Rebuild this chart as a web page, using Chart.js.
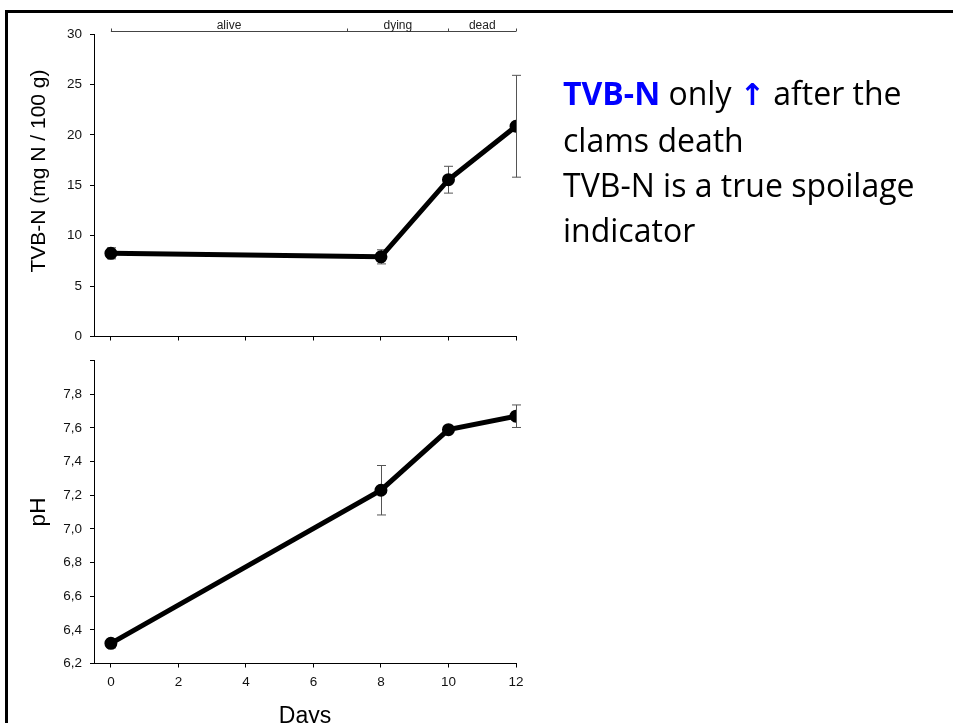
<!DOCTYPE html>
<html>
<head>
<meta charset="utf-8">
<script src="https://cdn.jsdelivr.net/npm/chart.js@4"></script>
<style>
  html, body { margin: 0; padding: 0; background: #fff; overflow: hidden; }
  #frame { position: absolute; left: 5px; top: 10px; width: 1000px; height: 800px;
           border-left: 3px solid #000; border-top: 3px solid #000; }
  canvas { position: absolute; left: 0; top: 0; }
  .axis-title { position: absolute; font-family: "Liberation Sans", Arial, sans-serif;
                white-space: nowrap; color: #000; transform: translate(-50%, -50%); }
  .rot { transform: translate(-50%, -50%) rotate(-90deg); }
  #note { position: absolute; left: 563px; top: 70px; font-family: "Open Sans", sans-serif;
          font-size: 32px; line-height: 45px; color: #000; white-space: nowrap; }
  #note .hl { color: #0000ff; font-weight: bold; }
  #note .arrow { color: #0000ff; font-family: "DejaVu Sans", sans-serif; font-weight: bold; font-size: 30px; }
</style>
</head>
<body>
<div id="frame"></div>
<canvas id="tvbCanvas" width="953" height="723"></canvas>
<canvas id="phCanvas" width="953" height="723"></canvas>
<div class="axis-title rot" style="left:37px; top:171px; font-size:21px; line-height:21px;">TVB-N (mg N / 100 g)</div>
<div class="axis-title rot" style="left:38px; top:512px; font-size:22.5px; line-height:22.5px;">pH</div>
<div class="axis-title" style="left:305px; top:715px; font-size:23px; line-height:23px;">Days</div>
<div id="note">
  <span class="hl">TVB-N</span> only <span class="arrow">&#8593;</span> after the<br>
  clams death<br>
  TVB-N is a true spoilage<br>
  indicator
</div>
<script>
// storage days
var days = [0, 8, 10, 12];
// total volatile basic nitrogen, mean and SD
var tvbn = [8.25, 7.9, 15.55, 20.85];
var tvbnErr = [0.55, 0.7, 1.33, 5.05];
// pH, mean and SD
var ph = [6.32, 7.23, 7.59, 7.67];
var phErr = [0.027, 0.147, 0.015, 0.067];

var dayTicks = [0, 2, 4, 6, 8, 10, 12];
var tvbTicks = [0, 5, 10, 15, 20, 25, 30];
var phTicks = [6.2, 6.4, 6.6, 6.8, 7.0, 7.2, 7.4, 7.6, 7.8, 8.0];
var phTickLabels = ['6,2', '6,4', '6,6', '6,8', '7,0', '7,2', '7,4', '7,6', '7,8', ''];

// clam condition along the storage period
var stageBounds = [0, 7, 10, 12];
var stageNames = ['alive', 'dying', 'dead'];

var FONT = '"Liberation Sans", Arial, sans-serif';

// vertical SD bars with small caps
var errorBars = {
  id: 'errorBars',
  beforeDatasetsDraw: function(chart){
    var ctx = chart.ctx, xs = chart.scales.x, ys = chart.scales.y;
    chart.data.datasets.forEach(function(ds){
      if(!ds.errors) return;
      ctx.save();
      ctx.strokeStyle = '#555';
      ctx.lineWidth = 1;
      ds.data.forEach(function(p, i){
        var x = Math.round(xs.getPixelForValue(p.x)) + 0.5;
        var yt = ys.getPixelForValue(p.y + ds.errors[i]);
        var yb = ys.getPixelForValue(p.y - ds.errors[i]);
        ctx.beginPath();
        ctx.moveTo(x, yt); ctx.lineTo(x, yb);
        ctx.moveTo(x - 4.5, yt); ctx.lineTo(x + 4.5, yt);
        ctx.moveTo(x - 4.5, yb); ctx.lineTo(x + 4.5, yb);
        ctx.stroke();
      });
      ctx.restore();
    });
  }
};

// alive / dying / dead bracket above the TVB-N panel
var stageBar = {
  id: 'stageBar',
  afterDraw: function(chart){
    var ctx = chart.ctx, xs = chart.scales.x;
    var y = 31.5;
    var x0 = xs.getPixelForValue(stageBounds[0]);
    var x1 = xs.getPixelForValue(stageBounds[stageBounds.length - 1]);
    ctx.save();
    ctx.strokeStyle = '#444';
    ctx.lineWidth = 1;
    ctx.beginPath();
    ctx.moveTo(x0, y); ctx.lineTo(x1, y);
    stageBounds.forEach(function(b){
      var bx = Math.round(xs.getPixelForValue(b)) + 0.5;
      ctx.moveTo(bx, y); ctx.lineTo(bx, y - 3);
    });
    ctx.stroke();
    ctx.fillStyle = '#222';
    ctx.font = '12px ' + FONT;
    ctx.textAlign = 'center';
    ctx.textBaseline = 'alphabetic';
    stageNames.forEach(function(n, i){
      var cx = (xs.getPixelForValue(stageBounds[i]) + xs.getPixelForValue(stageBounds[i + 1])) / 2;
      ctx.fillText(n, cx, 29);
    });
    ctx.restore();
  }
};

function points(ys){
  return days.map(function(d, i){ return {x: d, y: ys[i]}; });
}

function fixedTicks(list){
  return function(scale){
    scale.ticks = list.map(function(v){ return {value: v}; });
  };
}

function makeChart(id, values, errs, yMin, yMax, yTicks, yLabels, pad, xAxisH, showX){
  var ctx = document.getElementById(id).getContext('2d');
  return new Chart(ctx, {
    type: 'scatter',
    data: {
      datasets: [{
        data: points(values),
        errors: errs,
        showLine: true,
        borderColor: '#000',
        backgroundColor: '#000',
        borderWidth: 5,
        pointRadius: 4,
        pointHoverRadius: 4,
        tension: 0
      }]
    },
    options: {
      responsive: false,
      animation: false,
      events: [],
      layout: { padding: pad },
      plugins: { legend: { display: false }, tooltip: { enabled: false } },
      scales: {
        x: {
          type: 'linear',
          min: -0.5,
          max: 12,
          afterBuildTicks: fixedTicks(dayTicks),
          afterFit: function(s){ s.height = xAxisH; },
          border: { display: true, color: '#000', width: 1 },
          grid: { drawOnChartArea: false, drawTicks: true, tickLength: 4, color: '#000' },
          ticks: {
            display: showX,
            padding: 7,
            color: '#111',
            font: { family: FONT, size: 13.5 },
            maxRotation: 0
          }
        },
        y: {
          min: yMin,
          max: yMax,
          afterBuildTicks: fixedTicks(yTicks),
          afterFit: function(s){ s.width = 60; },
          border: { display: true, color: '#000', width: 1 },
          grid: { drawOnChartArea: false, drawTicks: true, tickLength: 4, color: '#000' },
          ticks: {
            padding: 8,
            color: '#111',
            font: { family: FONT, size: 13.5 },
            callback: function(v, i){ return yLabels ? yLabels[i] : String(v); }
          }
        }
      }
    },
    plugins: id === 'tvbCanvas' ? [errorBars, stageBar] : [errorBars]
  });
}

makeChart('tvbCanvas', tvbn, tvbnErr, 0, 30, tvbTicks, null,
  { left: 34, top: 34, right: 437, bottom: 376.5 }, 10, false);
makeChart('phCanvas', ph, phErr, 6.2, 8.0, phTicks, phTickLabels,
  { left: 34, top: 360.7, right: 437, bottom: 19.5 }, 40, true);
</script>
</body>
</html>
